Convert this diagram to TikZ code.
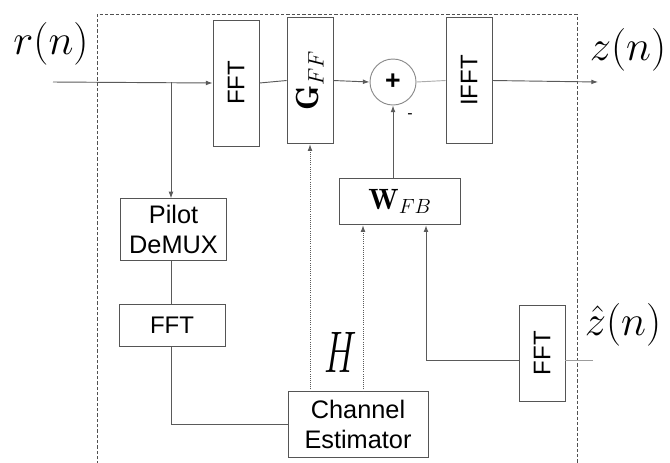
\RequirePackage{fix-cm}
\documentclass[tikz,border=0pt]{standalone}
\usepackage{amsmath}
\usepackage{fontspec}
\usepackage{graphicx}
\usetikzlibrary{arrows.meta,positioning,calc}
\newfontfamily\blockfont{Liberation Sans}
\definecolor{wireGray}{HTML}{5A5A5A}
\definecolor{edgeGray}{HTML}{555555}

\begin{document}
\begin{tikzpicture}[
    x=0.75pt,y=-0.75pt,
    >={Latex[length=5pt,width=3.6pt]},
    every node/.style={inner sep=0pt},
    block/.style ={rectangle,draw=edgeGray,line width=0.65pt,fill=white,
                   font=\blockfont\fontsize{19}{22}\selectfont,align=center},
    vblock/.style={block,minimum width=34.5pt,font=\blockfont\fontsize{18}{20}\selectfont},
    wire/.style={draw=wireGray,line width=0.7pt},
    probe/.style={draw=wireGray,line width=0.6pt,densely dotted},
    sig/.style={font=\fontsize{32}{36}\selectfont}
  ]
  \useasboundingbox (0,0) rectangle (670,462);
  % receiver frame
  \draw[wireGray!90!black,line width=0.75pt,dash pattern=on 2.5pt off 1.5pt]
        (97,470) -- (97,14) -- (577,14) -- (577,470);
  % forward path
  \node[vblock,minimum height=94.5pt] (fftA) at (236,83) {\rotatebox{90}{FFT}};
  \node[vblock,minimum height=95pt,font=\fontsize{24}{24}\selectfont] (gff) at (310,80.5)
        {\rotatebox{90}{$\mathbf{G}_{FF}$}};
  \node[circle,draw=wireGray!70,line width=0.7pt,minimum size=34.5pt,
        font=\blockfont\bfseries\fontsize{20}{20}\selectfont] (sum) at (393,82) {+};
  \node[vblock,minimum height=95pt] (ifft) at (469,80.5) {\rotatebox{90}{IFFT}};
  \node[block,minimum width=91pt,minimum height=35pt,font=\fontsize{22}{22}\selectfont]
        (wfb) at (400,201.5) {$\mathbf{W}_{FB}$};
  % pilot branch
  \node[block,minimum width=80pt,minimum height=46pt] (demux) at (173.5,229.5) {Pilot\\DeMUX};
  \node[block,minimum width=79.5pt,minimum height=32pt,
        font=\blockfont\fontsize{18}{20}\selectfont] (fftB) at (172,325.5) {FFT};
  \node[block,minimum width=105pt,minimum height=49pt] (chest) at (358,424.5) {Channel\\Estimator};
  \node[vblock,minimum height=72pt] (fftC) at (542,353) {\rotatebox{90}{FFT}};
  % labels
  \node[sig] (rlab) at (51,44) {$r(n)$};
  \node[sig] (zlab) at (628,50) {$z(n)$};
  \node[sig] (zhlab) at (623,325) {$\hat{z}(n)$};
  \node (hlab) at (341,352) {\scalebox{0.62}[1]{\fontsize{44}{44}\selectfont$H$}};
  \node[font=\blockfont\fontsize{12}{12}\selectfont] (minus) at (410,116) {-};
  \coordinate (rin) at (53,82);
  \coordinate (tap) at (171,82);
  \coordinate (zout) at (598,82);
  \coordinate (zin) at (593,360);
  \coordinate (fbk) at (426,360);
  \coordinate (hprobe) at ([xshift=3.75pt]chest.north);
  % connectors
  \draw[wire,->] (rin) -- (fftA.west);
  \draw[wire,->] (tap) -- (tap |- demux.north);
  \draw[wire] (fftA.east) -- (gff.west);
  \draw[wire,->] (gff.east) -- (sum.west);
  \draw[wire,draw=wireGray!50] (sum.east) -- (ifft.west);
  \draw[wire,->] (ifft.east) -- (zout);
  \draw[wire,->] (sum.south |- wfb.north) -- (sum.south);
  \draw[wire] (tap |- demux.south) -- (tap |- fftB.north);
  \draw[wire] (tap |- fftB.south) |- (chest.west);
  \draw[probe,->] (gff.south |- chest.north) -- (gff.south);
  \draw[probe,->] (hprobe) -- (hprobe |- wfb.south);
  \draw[wire,draw=wireGray!60] (zin) -- (fftC.east |- zin);
  \draw[wire,->] (fftC.west |- zin) -- (fbk) -- (fbk |- wfb.south);
\end{tikzpicture}
\end{document}
